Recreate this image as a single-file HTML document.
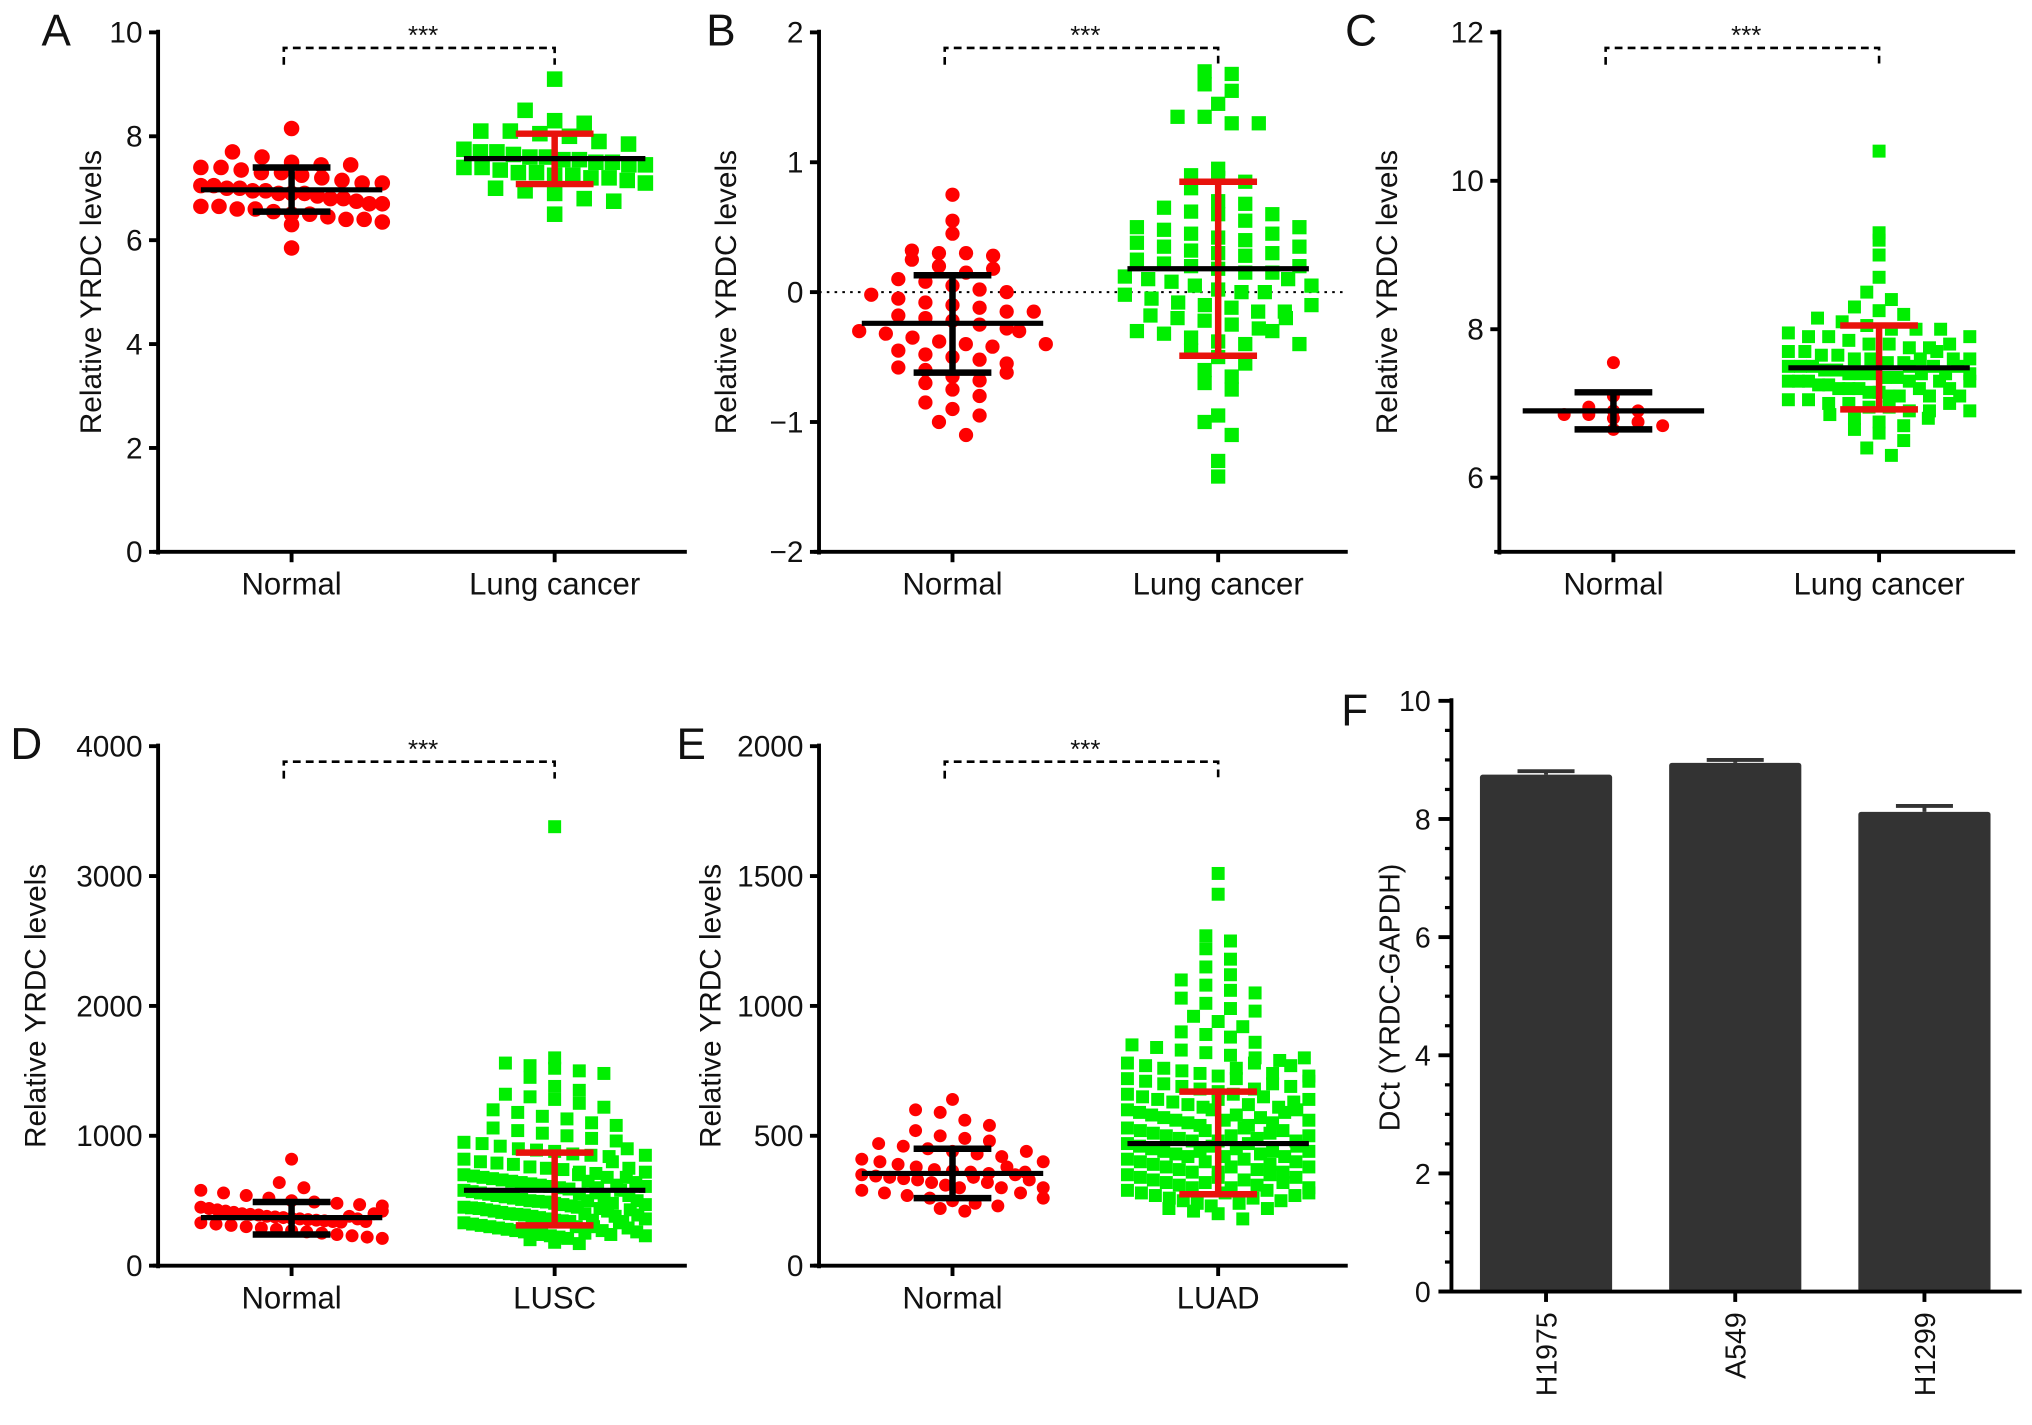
<!DOCTYPE html>
<html><head><meta charset="utf-8"><style>
html,body{margin:0;padding:0;background:#fff;}
svg{display:block;font-family:"Liberation Sans",Arial,sans-serif;}
</style></head><body>
<svg id="fig" width="2032" height="1425" viewBox="0 0 1568 1100" preserveAspectRatio="none" xmlns="http://www.w3.org/2000/svg"></svg>
<script>
// ---- Data ----
const catsA=["Normal","Lung cancer"];
const aNormal=[8.15,7.7,7.6,7.5,7.45,7.45,7.4,7.4,7.35,7.3,7.3,7.25,7.2,7.15,7.1,7.1,7.05,7.05,7.0,7.0,6.95,6.95,6.9,6.9,6.9,6.85,6.8,6.8,6.75,6.7,6.7,6.65,6.65,6.6,6.6,6.55,6.5,6.5,6.45,6.4,6.4,6.35,6.3,5.85];
const aCancer=[9.1,8.5,8.3,8.25,8.1,8.1,8.05,8.0,7.9,7.85,7.75,7.7,7.7,7.65,7.6,7.6,7.55,7.55,7.5,7.5,7.45,7.45,7.4,7.4,7.35,7.3,7.3,7.25,7.25,7.2,7.2,7.15,7.1,7.0,6.95,6.9,6.8,6.75,6.5];
const aStats=[[6.97,7.4,6.55],[7.57,8.05,7.08]];
const catsB=["Normal","Lung cancer"];
const bNormal=[0.75,0.55,0.45,0.32,0.3,0.3,0.28,0.25,0.2,0.15,0.1,0.08,0.05,0.02,0,-0.02,-0.05,-0.08,-0.1,-0.12,-0.15,-0.18,-0.2,-0.22,-0.25,-0.28,-0.3,-0.32,-0.35,-0.38,-0.4,-0.42,-0.45,-0.48,-0.5,-0.52,-0.55,-0.58,-0.6,-0.65,-0.68,-0.7,-0.75,-0.8,-0.85,-0.9,-0.95,-1.0,-1.1,-0.15,-0.3,-0.4,0.18,-0.62];
const bCancer=[1.7,1.68,1.6,1.55,1.45,1.35,1.35,1.3,1.3,0.95,0.9,0.88,0.85,0.8,0.7,0.68,0.65,0.62,0.6,0.55,0.5,0.48,0.45,0.42,0.4,0.38,0.35,0.32,0.3,0.28,0.25,0.22,0.2,0.18,0.15,0.12,0.1,0.08,0.05,0.02,0,-0.02,-0.05,-0.08,-0.1,-0.12,-0.15,-0.18,-0.2,-0.22,-0.25,-0.28,-0.3,-0.32,-0.35,-0.38,-0.4,-0.45,-0.5,-0.55,-0.6,-0.65,-0.7,-0.75,-0.95,-1.0,-1.1,-1.3,-1.42,0.6,0.45,0.3,0.15,0,-0.15,-0.3,0.5,0.2,-0.1,-0.4,0.1,-0.2,0.35,0.05];
const bStats=[[-0.24,0.13,-0.62],[0.18,0.85,-0.49]];
const catsC=["Normal","Lung cancer"];
const cNormal=[7.55,7.1,6.95,6.9,6.85,6.85,6.8,6.75,6.7,6.65,6.9];
const cCancer=[10.4,9.3,9.2,9.0,8.7,8.5,8.4,8.3,8.25,8.2,8.15,8.1,8.05,8.0,8.0,7.95,7.9,7.9,7.85,7.8,7.8,7.75,7.75,7.7,7.7,7.65,7.65,7.6,7.6,7.55,7.55,7.5,7.5,7.5,7.45,7.45,7.4,7.4,7.4,7.35,7.35,7.3,7.3,7.3,7.25,7.25,7.2,7.2,7.2,7.15,7.15,7.1,7.1,7.05,7.05,7.0,7.0,6.95,6.95,6.9,6.9,6.85,6.8,6.75,6.7,6.65,6.6,6.5,6.4,6.3,7.6,7.5,7.4,7.3,7.2,7.1,7.0,7.8,7.7,7.6,7.5,7.4,7.3,7.2,7.1,7.9,8.0,7.6,7.5,7.4,7.3,6.9,6.8];
const cStats=[[6.9,7.15,6.65],[7.48,8.05,6.92]];
const catsD=["Normal","LUSC"];
const dNormal=[820,640,600,580,560,540,520,500,490,480,470,460,450,440,430,420,410,400,395,390,380,375,370,365,360,355,350,345,340,335,330,320,310,300,290,280,270,260,250,240,230,220,210,380,360,340,400,420];
const dCancer=[3380,1600,1560,1540,1520,1500,1480,1450,1380,1350,1320,1300,1280,1250,1220,1200,1180,1150,1130,1100,1080,1060,1040,1020,1000,980,960,950,940,920,900,890,880,860,850,840,820,800,790,780,760,750,740,720,710,700,690,680,670,660,650,640,630,620,610,600,590,580,570,560,550,540,530,520,510,500,495,490,480,470,460,450,445,440,430,420,410,400,395,390,380,370,360,350,345,340,330,320,310,300,290,280,270,260,250,240,230,220,210,200,180,170,700,650,600,550,500,450,400,350,300,250,680,620,560,520,480,440,420,380,340,300,270,240,900,850,800,750,720,680,640,610,580,540,500,470,430,390,360,330,290,260,230];
const dStats=[[370,490,240],[580,870,310]];
const catsE=["Normal","LUAD"];
const eNormal=[640,600,590,560,540,520,500,490,480,470,460,450,440,430,420,410,400,390,380,370,365,360,355,350,345,340,335,330,320,310,300,290,280,270,260,250,240,230,220,210,380,360,340,320,300,350,330,400,280,260,440,300];
const eCancer=[1510,1430,1270,1250,1220,1180,1150,1120,1100,1080,1060,1050,1030,1010,990,980,960,940,920,900,890,880,860,850,840,830,820,810,800,790,780,770,760,750,740,730,720,710,700,690,680,670,660,650,640,630,620,610,600,590,580,570,560,550,540,530,520,510,500,490,480,470,460,450,440,430,420,410,400,390,380,370,360,350,340,330,320,310,300,290,280,270,260,250,240,230,220,210,200,180,800,760,720,680,640,600,560,520,480,440,400,360,320,280,240,780,740,700,660,620,580,540,500,460,420,380,340,300,260,220,770,730,690,650,610,570,530,490,450,410,370,330,290,250,710,630,550,470,390,310,590,510,430,350,270,600,520,440,360,280,480,400,320,500,420,340,460,380,300,560,640,440];
const eStats=[[355,450,260],[470,670,275]];
const catsF=["H1975","A549","H1299"];
const fValues=[8.75,8.95,8.12];
const fErrors=[0.06,0.05,0.1];

// ---- Drawing ----
const svg=document.getElementById('fig');
const NS='http://www.w3.org/2000/svg';
function mk(tag,attrs,parent){const e=document.createElementNS(NS,tag);for(const k in attrs)e.setAttribute(k,attrs[k]);(parent||svg).appendChild(e);return e;}
function txt(s,attrs,parent){const e=mk('text',attrs,parent);e.textContent=s;return e;}

function swarm(vals,cx,ys,maxW,g,color,shape,name,sz){
  const pts=vals.map(v=>({v:v,py:ys(v)}));
  const rows={};
  pts.forEach(p=>{const k=Math.round(p.py/(sz*1.25));(rows[k]=rows[k]||[]).push(p);});
  Object.keys(rows).forEach(k=>{
    const r=rows[k];const n=r.length;
    let s=sz*1.9; if(n>1 && (n-1)*s>2*maxW) s=2*maxW/(n-1);
    r.forEach((p,j)=>{
      const x=cx+(j-(n-1)/2)*s;
      let el;
      if(shape==='c'){el=mk('circle',{cx:x,cy:p.py,r:sz/2,fill:color},g);}
      else{el=mk('rect',{x:x-sz/2,y:p.py-sz/2,width:sz,height:sz,fill:color},g);}
      
      
    });
  });
}

function scatterPanel(o){
  const g=mk('g',{});
  
  
  const ys=v=>o.bottom-(v-o.ymin)/(o.ymax-o.ymin)*(o.bottom-o.top);
  const xs=i=>o.catX[i];
  const L=txt(o.letter,{x:o.lx,y:o.top+10,'font-size':34,fill:'#111'},g);
  
  const ya=mk('line',{x1:o.ax,y1:o.top-2,x2:o.ax,y2:o.bottom+2,stroke:'#000','stroke-width':3},g);
  
  const xa=mk('line',{x1:o.ax-4,y1:o.bottom,x2:o.xend,y2:o.bottom,stroke:'#000','stroke-width':3},g);
  
  o.ticks.forEach(t=>{
    mk('line',{x1:o.ax-7,y1:ys(t),x2:o.ax,y2:ys(t),stroke:'#000','stroke-width':3},g);
    const tl=txt(o.fmt?o.fmt(t):String(t),{x:o.ax-12,y:ys(t)+8,'font-size':23,'text-anchor':'end',fill:'#111'},g);
    
  });
  o.cats.forEach((c,i)=>{
    mk('line',{x1:xs(i),y1:o.bottom,x2:xs(i),y2:o.bottom+8,stroke:'#000','stroke-width':3},g);
    const cl=txt(c,{x:xs(i),y:o.bottom+33,'font-size':24,'text-anchor':'middle',fill:'#111'},g);
    
  });
  const yt=txt('Relative YRDC levels',{x:0,y:0,'font-size':23,'text-anchor':'middle',fill:'#111',transform:`translate(${o.ytx},${(o.top+o.bottom)/2}) rotate(-90)`},g);
  
  if(o.zeroLine!==undefined){
    const z=mk('line',{x1:o.ax,y1:ys(o.zeroLine),x2:o.xend,y2:ys(o.zeroLine),stroke:'#000','stroke-width':1.5,'stroke-dasharray':'2,4'},g);
    
  }
  swarm(o.g1,xs(0),ys,o.w1,g,'#ff0000','c','normal-point',o.sz);
  swarm(o.g2,xs(1),ys,o.w2,g,'#00ee00','s','tumor-point',o.sz);
  [[o.stats[0],'#000'],[o.stats[1],'#e8120c']].forEach((s,i)=>{
    const cx=xs(i);const st=s[0];const col=s[1];
    const eb=mk('g',{},g);
    
    
    mk('line',{x1:cx,y1:ys(st[1]),x2:cx,y2:ys(st[2]),stroke:col,'stroke-width':5},eb);
    mk('line',{x1:cx-30,y1:ys(st[1]),x2:cx+30,y2:ys(st[1]),stroke:col,'stroke-width':5},eb);
    mk('line',{x1:cx-30,y1:ys(st[2]),x2:cx+30,y2:ys(st[2]),stroke:col,'stroke-width':5},eb);
    const m=mk('line',{x1:cx-70,y1:ys(st[0]),x2:cx+70,y2:ys(st[0]),stroke:'#000','stroke-width':4},g);
    
  });
  const b=mk('path',{d:`M${xs(0)-6},${o.top+25} V${o.top+12} H${xs(1)} V${o.top+25}`,fill:'none',stroke:'#000','stroke-width':2,'stroke-dasharray':'6,4'},g);
  
  const st=txt('***',{x:(xs(0)+xs(1))/2,y:o.top+9,'font-size':20,'text-anchor':'middle',fill:'#111'},g);
  
}

scatterPanel({id:'panel-a',letter:'A',lx:32,ax:122,xend:530,top:25,bottom:426,ymin:0,ymax:10,ticks:[0,2,4,6,8,10],cats:catsA,catX:[225,428],ytx:78,g1:aNormal,g2:aCancer,stats:aStats,w1:70,w2:70,sz:12});
scatterPanel({id:'panel-b',letter:'B',lx:545,ax:632,xend:1040,top:25,bottom:426,ymin:-2,ymax:2,ticks:[-2,-1,0,1,2],fmt:t=>t<0?'\u2212'+(-t):String(t),cats:catsB,catX:[735,940],ytx:568,g1:bNormal,g2:bCancer,stats:bStats,w1:72,w2:72,sz:11,zeroLine:0});
scatterPanel({id:'panel-c',letter:'C',lx:1038,ax:1157,xend:1555,top:25,bottom:426,ymin:5,ymax:12,ticks:[6,8,10,12],cats:catsC,catX:[1245,1450],ytx:1078,g1:cNormal,g2:cCancer,stats:cStats,w1:50,w2:70,sz:10});
scatterPanel({id:'panel-d',letter:'D',lx:8,ax:122,xend:530,top:576,bottom:977,ymin:0,ymax:4000,ticks:[0,1000,2000,3000,4000],cats:catsD,catX:[225,428],ytx:35,g1:dNormal,g2:dCancer,stats:dStats,w1:70,w2:70,sz:10});
scatterPanel({id:'panel-e',letter:'E',lx:522,ax:632,xend:1040,top:576,bottom:977,ymin:0,ymax:2000,ticks:[0,500,1000,1500,2000],cats:catsE,catX:[735,940],ytx:556,g1:eNormal,g2:eCancer,stats:eStats,w1:70,w2:70,sz:10});

// Panel F bar chart
(function(){
  const g=mk('g',{});
  
  
  const ax=1120,top=541,bottom=997,xend=1560,ymax=10;
  const ys=v=>bottom-v/ymax*(bottom-top);
  const xs=i=>1193+i*146;
  const L=txt('F',{x:1035,y:560,'font-size':34,fill:'#111'},g);
  
  fValues.forEach((v,i)=>{
    const r=mk('rect',{x:xs(i)-51,y:ys(v),width:102,height:bottom-ys(v),fill:'#333333',rx:2},g);
    
    const e=mk('path',{d:`M${xs(i)-22},${ys(v+fErrors[i])} H${xs(i)+22} M${xs(i)},${ys(v)} V${ys(v+fErrors[i])}`,stroke:'#333','stroke-width':3,fill:'none'},g);
    
  });
  const ya=mk('line',{x1:ax,y1:top-2,x2:ax,y2:bottom,stroke:'#000','stroke-width':3},g);
  
  const xa=mk('line',{x1:ax-10,y1:bottom,x2:xend,y2:bottom,stroke:'#000','stroke-width':3},g);
  
  for(let t=0;t<=10;t+=0.5){
    const major=t%2===0;
    mk('line',{x1:ax-(major?10:5),y1:ys(t),x2:ax,y2:ys(t),stroke:'#000','stroke-width':major?3:2.5},g);
    if(major){const tl=txt(String(t),{x:ax-16,y:ys(t)+8,'font-size':22,'text-anchor':'end',fill:'#111'},g);
      }
  }
  catsF.forEach((c,i)=>{
    mk('line',{x1:xs(i),y1:bottom,x2:xs(i),y2:bottom+8,stroke:'#000','stroke-width':3},g);
    const cl=txt(c,{x:0,y:0,'font-size':22,'text-anchor':'end',fill:'#111',transform:`translate(${xs(i)+8},${bottom+16}) rotate(-90)`},g);
    
  });
  const yt=txt('DCt (YRDC-GAPDH)',{x:0,y:0,'font-size':22,'text-anchor':'middle',fill:'#111',transform:`translate(1080,770) rotate(-90)`},g);
  
})();
</script>
</body></html>
